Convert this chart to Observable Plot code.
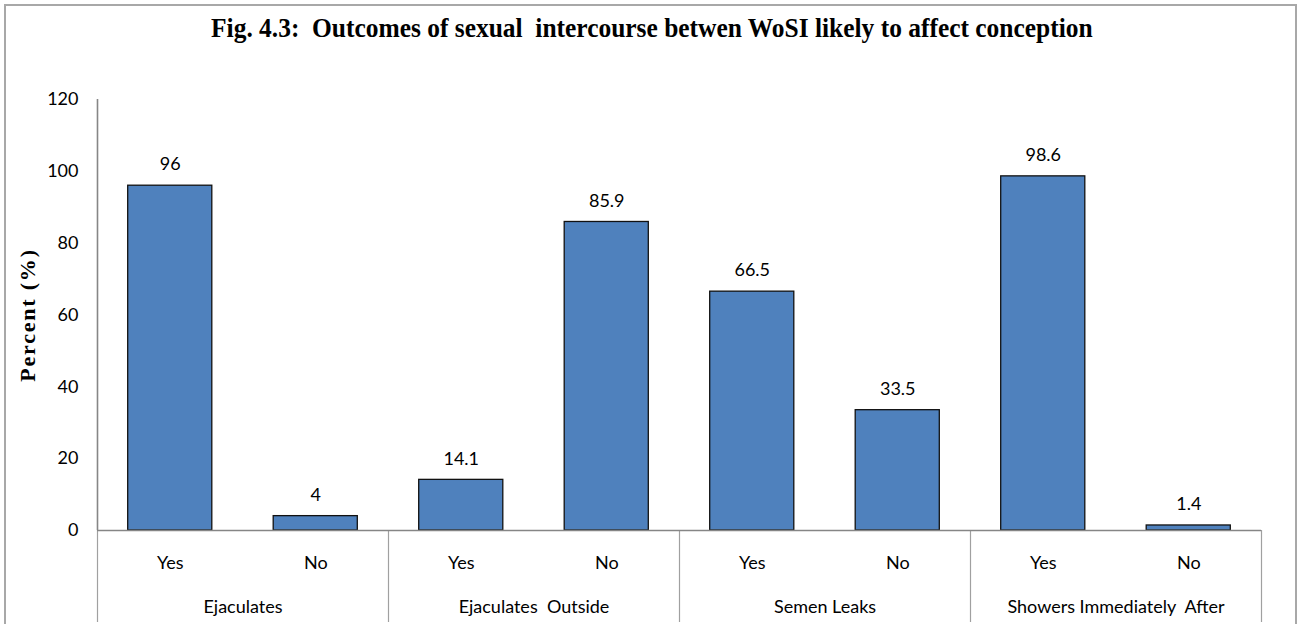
<!DOCTYPE html>
<html>
<head>
<meta charset="utf-8">
<script src="https://cdn.jsdelivr.net/npm/d3@7"></script>
<script src="https://cdn.jsdelivr.net/npm/@observablehq/plot@0.6"></script>
<style>
  html, body { margin: 0; padding: 0; overflow: hidden; background: #fff; width: 1304px; height: 624px; }
  #frame { position: absolute; left: 4px; top: 4px; width: 1293px; height: 660px; border: 2px solid #a8a8a8; box-sizing: border-box; }
  #title { position: absolute; left: 0; top: 13px; width: 1304px; text-align: center; line-height: 26px; }
  #title span { display: inline-block; white-space: pre; font: bold 27px "Liberation Serif", serif; color: #000; transform-origin: 50% 50%; }
  #ytitle { position: absolute; left: 28px; top: 315px; transform: translate(-50%, -50%) rotate(-90deg); white-space: nowrap; font: bold 22px "Liberation Serif", serif; letter-spacing: 1.8px; color: #000; }
  #chart { position: absolute; left: 0; top: 50px; }
</style>
</head>
<body>
<div id="frame"></div>
<div id="title"><span id="titletext"></span></div>
<div id="ytitle"></div>
<div id="chart"></div>
<script>
// ---- data ----
const titleText = "Fig. 4.3:  Outcomes of sexual  intercourse betwen WoSI likely to affect conception";
const yLabel = "Percent (%)";
const groups = ["Ejaculates", "Ejaculates  Outside", "Semen Leaks", "Showers Immediately  After"];
const answers = ["Yes", "No"];
const values = [96, 4, 14.1, 85.9, 66.5, 33.5, 98.6, 1.4];
const yTicks = [0, 20, 40, 60, 80, 100, 120];

// ---- table built from the arrays ----
const rows = values.map((v, i) => ({
  i,
  group: groups[Math.floor(i / answers.length)],
  answer: answers[i % answers.length],
  value: v
}));
const n = rows.length;
const barHalf = 0.289;

// title, compressed horizontally to the reference's width
const tspan = document.getElementById("titletext");
tspan.textContent = titleText;
const ctx = document.createElement("canvas").getContext("2d");
ctx.font = 'bold 27px "Liberation Serif"';
const w = ctx.measureText(titleText).width;
tspan.style.transform = `scaleX(${882 / w})`;
document.getElementById("ytitle").textContent = yLabel;

const chart = Plot.plot({
  width: 1304,
  height: 574,
  marginLeft: 97,
  marginRight: 43,
  marginTop: 49,
  marginBottom: 94,
  style: { fontFamily: "Lato, sans-serif", fontSize: "18px", color: "#000", background: "transparent" },
  x: { type: "linear", domain: [0, n], axis: null },
  y: { domain: [0, 120], axis: null },
  marks: [
    Plot.rectY(rows, {
      x1: d => d.i + 0.5 - barHalf,
      x2: d => d.i + 0.5 + barHalf,
      y: "value",
      fill: "#4f81bd",
      stroke: "#111",
      strokeWidth: 1.3
    }),
    Plot.text(rows, {
      x: d => d.i + 0.5,
      y: "value",
      text: d => String(d.value),
      dy: -21,
      fontSize: 18,
      fill: "#000"
    }),
    Plot.axisY({ ticks: yTicks, tickSize: 0, tickPadding: 19, label: null, fontSize: 18 }),
    // group separators below the baseline
    Plot.axisX({
      ticks: d3.range(0, n + 1, answers.length),
      tickSize: 92,
      text: null,
      label: null,
      stroke: "#a0a0a0",
      strokeWidth: 1.2
    }),
    Plot.axisX({
      ticks: rows.map(d => d.i + 0.5),
      tickFormat: x => rows[Math.floor(x)].answer,
      tickSize: 0,
      tickPadding: 26,
      label: null,
      fontSize: 18
    }),
    Plot.axisX({
      ticks: groups.map((g, k) => k * answers.length + answers.length / 2),
      tickFormat: x => groups[Math.round((x - answers.length / 2) / answers.length)],
      tickSize: 0,
      tickPadding: 70,
      label: null,
      fontSize: 18
    }),
    Plot.ruleX([0], { stroke: "#868686", strokeWidth: 1.6 }),
    Plot.ruleY([0], { stroke: "#868686", strokeWidth: 1.6 })
  ]
});
chart.querySelectorAll("text").forEach(t => t.style.whiteSpace = "pre");
document.getElementById("chart").appendChild(chart);
</script>
</body>
</html>
